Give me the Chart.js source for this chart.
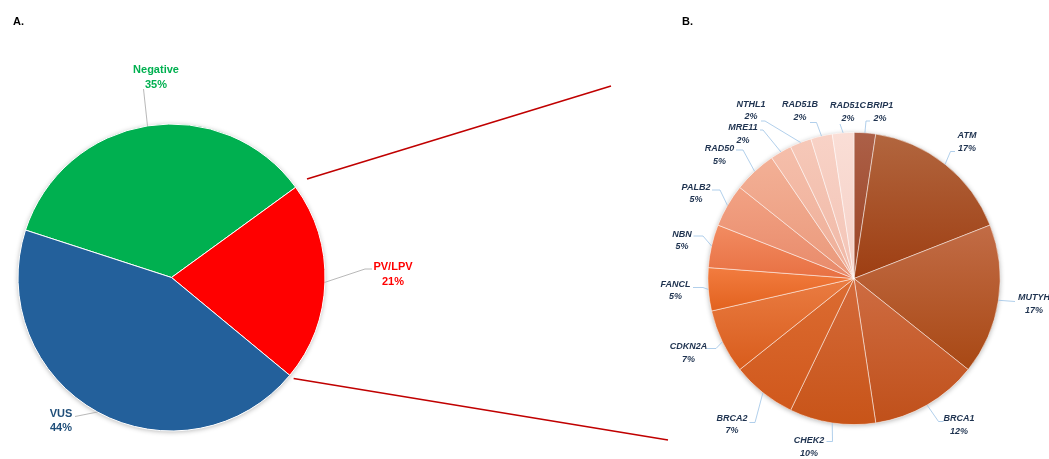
<!DOCTYPE html>
<html>
<head>
<meta charset="utf-8">
<script src="https://cdn.jsdelivr.net/npm/chart.js@4.4.0/dist/chart.umd.min.js"></script>
<style>
  body { margin: 0; background: #fff; }
  #wrap { position: relative; width: 1049px; height: 459px; overflow: hidden; }
  canvas { position: absolute; left: 0; top: 0; }
  .tag { position: absolute; font: bold 11px 'Liberation Sans', Arial, sans-serif; color: #000; line-height: 13px; }
</style>
</head>
<body>
<div id="wrap">
  <canvas id="pieA" width="1049" height="459"></canvas>
  <canvas id="pieB" width="1049" height="459"></canvas>
  <div class="tag" style="left:13px;top:15px">A.</div>
  <div class="tag" style="left:682px;top:15px">B.</div>
</div>
<script>
// A. overall test result
const resultLabels = ['Negative', 'PV/LPV', 'VUS']
const resultCounts = [70, 42, 88]
const resultColors = ['#00B050', '#FF0000', '#23609B']
const resultTextColors = ['#00B050', '#FF0000', '#1F4E79']

// B. genes among PV/LPV
const geneLabels = ['BRIP1', 'ATM', 'MUTYH', 'BRCA1', 'CHEK2', 'BRCA2', 'CDKN2A', 'FANCL', 'NBN', 'PALB2', 'RAD50', 'MRE11', 'NTHL1', 'RAD51B', 'RAD51C']
const geneCounts = [1, 7, 7, 5, 4, 3, 3, 2, 2, 2, 2, 1, 1, 1, 1]
const geneTop = ['#AC6048', '#B2663F', '#C26C46', '#CE6C42', '#D46A3A', '#DC6C32', '#EA7C42', '#F27C40', '#F28C62', '#F2A284', '#F3B096', '#F5BEAA', '#F6C8B8', '#F8D2C6', '#FADED6']
const geneBottom = ['#9A4222', '#9E3E12', '#A84814', '#C0501A', '#C85418', '#D0581C', '#D85C1C', '#E2621E', '#E87042', '#E88A6A', '#EA987A', '#EEAE98', '#F0B8A6', '#F3C4B6', '#F5D0C6']

// label placement (text centre, leader bend points)
const resultLayout = {
  'Negative': { x: 156, y: 70, pts: [[143.5, 89]] },
  'PV/LPV': { x: 393, y: 267, pts: [[365, 269], [372, 269]] },
  'VUS': { x: 61, y: 413.5, pts: [[75, 416.5]] },
}
const geneLayout = {
  'BRIP1': { x: 880, y: 106, pts: [[866, 121], [870, 121]] },
  'RAD51C': { x: 848, y: 106, pts: [[840, 124]] },
  'RAD51B': { x: 800, y: 105, pts: [[816.5, 122.5], [810, 122.5]] },
  'NTHL1': { x: 751, y: 104.5, pts: [[765, 121], [761, 121]] },
  'MRE11': { x: 743, y: 128, pts: [[763, 130], [760, 130]] },
  'RAD50': { x: 719.5, y: 149, pts: [[743, 150], [736, 150]] },
  'PALB2': { x: 696, y: 187.5, pts: [[720, 190], [712, 190]] },
  'NBN': { x: 682, y: 234.5, pts: [[703, 236], [693.5, 236]] },
  'FANCL': { x: 675.5, y: 284.5, pts: [[703, 287.5], [693, 287.5]] },
  'CDKN2A': { x: 688.5, y: 347, pts: [[716, 348.5], [707, 348.5]] },
  'BRCA2': { x: 732, y: 418.5, pts: [[755, 422.5], [749.5, 422.5]] },
  'CHEK2': { x: 809, y: 441, pts: [[832.5, 441.5], [826.5, 441.5]] },
  'BRCA1': { x: 959, y: 419, pts: [[938.5, 421.5], [943.5, 421.5]] },
  'MUTYH': { x: 1034, y: 298, pts: [[1015, 301.5]] },
  'ATM': { x: 967, y: 136, pts: [[950.5, 151.5], [955, 151.5]] },
}

const sum = arr => arr.reduce((a, b) => a + b, 0)

// leader lines + two-line labels
const makeLabels = (layout, font, lineColor, textColor, gap) => ({
  id: 'pieLabels',
  afterDatasetsDraw(chart) {
    const ctx = chart.ctx
    const data = chart.data.datasets[0].data
    const total = sum(data)
    chart.getDatasetMeta(0).data.forEach((arc, i) => {
      const p = arc.getProps(['x', 'y', 'startAngle', 'endAngle', 'outerRadius'], true)
      const mid = (p.startAngle + p.endAngle) / 2
      const lay = layout[chart.data.labels[i]]
      ctx.save()
      ctx.strokeStyle = lineColor
      ctx.lineWidth = 0.8
      ctx.beginPath()
      ctx.moveTo(p.x + Math.cos(mid) * p.outerRadius, p.y + Math.sin(mid) * p.outerRadius)
      lay.pts.forEach(pt => ctx.lineTo(pt[0], pt[1]))
      ctx.stroke()
      ctx.font = font
      ctx.fillStyle = Array.isArray(textColor) ? textColor[i] : textColor
      ctx.textAlign = 'center'
      ctx.textBaseline = 'middle'
      ctx.fillText(chart.data.labels[i], lay.x, lay.y)
      ctx.fillText(Math.round(data[i] / total * 100) + '%', lay.x, lay.y + gap)
      ctx.restore()
    })
  }
})

// soft shadow under the pie
const pieShadow = {
  id: 'pieShadow',
  beforeDatasetsDraw(chart) {
    const arc = chart.getDatasetMeta(0).data[0]
    if (!arc) return
    const ctx = chart.ctx
    ctx.save()
    ctx.shadowColor = 'rgba(0,0,0,0.3)'
    ctx.shadowBlur = 5
    ctx.shadowOffsetY = 1
    ctx.fillStyle = '#fff'
    ctx.beginPath()
    ctx.arc(arc.x, arc.y, arc.outerRadius, 0, Math.PI * 2)
    ctx.fill()
    ctx.restore()
  }
}

// red connector lines from PV/LPV slice toward panel B
const connector = {
  id: 'connector',
  afterDraw(chart) {
    const arcs = chart.getDatasetMeta(0).data
    const pv = arcs[1]
    const ctx = chart.ctx
    const ends = [[pv.startAngle, 14, 611, 86], [pv.endAngle, 5, 668, 440]]
    ctx.save()
    ctx.strokeStyle = '#C00000'
    ctx.lineWidth = 1.6
    ends.forEach(e => {
      const r = pv.outerRadius + e[1]
      ctx.beginPath()
      ctx.moveTo(pv.x + Math.cos(e[0]) * r, pv.y + Math.sin(e[0]) * r)
      ctx.lineTo(e[2], e[3])
      ctx.stroke()
    })
    ctx.restore()
  }
}

// vertical gradient per slice like the original fill
const sliceFill = (c) => {
  const i = c.dataIndex
  const chart = c.chart
  const area = chart.chartArea
  if (!area || i === undefined) return geneBottom[i || 0]
  const cx = (area.left + area.right) / 2
  const cy = (area.top + area.bottom) / 2
  const r = Math.min(area.width, area.height) / 2
  const total = sum(geneCounts)
  const before = sum(geneCounts.slice(0, i))
  const a0 = -Math.PI / 2 + Math.PI * 2 * before / total
  const a1 = a0 + Math.PI * 2 * geneCounts[i] / total
  const ys = [cy, cy + r * Math.sin(a0), cy + r * Math.sin(a1)]
  if (a0 <= Math.PI / 2 && a1 >= Math.PI / 2) ys.push(cy + r)
  if (a0 <= Math.PI * 1.5 && a1 >= Math.PI * 1.5) ys.push(cy - r)
  const g = chart.ctx.createLinearGradient(0, Math.min(...ys), 0, Math.max(...ys))
  g.addColorStop(0, geneTop[i])
  g.addColorStop(1, geneBottom[i])
  return g
}

new Chart(document.getElementById('pieA'), {
  type: 'pie',
  data: {
    labels: resultLabels,
    datasets: [{
      data: resultCounts,
      backgroundColor: resultColors,
      borderColor: '#ffffff',
      borderWidth: 1,
    }]
  },
  options: {
    responsive: false,
    animation: false,
    rotation: -72,
    layout: { padding: { left: 17.5, top: 123.5, right: 723.5, bottom: 27.5 } },
    plugins: { legend: { display: false }, tooltip: { enabled: false } },
  },
  plugins: [pieShadow, makeLabels(resultLayout, "bold 11px 'Liberation Sans', Arial, sans-serif", '#A6A6A6', resultTextColors, 14.5), connector]
})

new Chart(document.getElementById('pieB'), {
  type: 'pie',
  data: {
    labels: geneLabels,
    datasets: [{
      data: geneCounts,
      backgroundColor: sliceFill,
      borderColor: 'rgba(255,255,255,0.6)',
      borderWidth: 0.8,
    }]
  },
  options: {
    responsive: false,
    animation: false,
    rotation: 0,
    layout: { padding: { left: 707.5, top: 132, right: 48.5, bottom: 34 } },
    plugins: { legend: { display: false }, tooltip: { enabled: false } },
  },
  plugins: [pieShadow, makeLabels(geneLayout, "italic bold 9px 'Liberation Sans', Arial, sans-serif", '#9DC3E6', '#1F3350', 12.5)]
})
</script>
</body>
</html>
